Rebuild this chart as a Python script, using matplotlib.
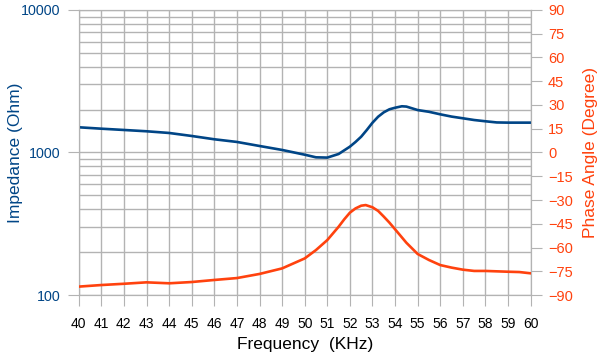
import numpy as np
import matplotlib
matplotlib.use("Agg")
import matplotlib.pyplot as plt
from matplotlib.ticker import FixedLocator, NullFormatter, LogLocator

plt.rcParams['font.family'] = ['Liberation Sans', 'DejaVu Sans']

# impedance (Ohm)
freq_z = [40, 41, 42, 43, 44, 45, 46, 47, 48, 49, 50, 50.5, 51, 51.5, 52, 52.25,
          52.5, 52.75, 53, 53.25, 53.5, 53.75, 54, 54.3, 54.5, 55, 55.5, 56, 56.5,
          57, 57.5, 58, 58.5, 59, 59.5, 60]
impedance = [1503, 1469, 1439, 1409, 1371, 1306, 1238, 1186, 1111, 1042, 965, 925,
             921, 976, 1099, 1186, 1291, 1440, 1618, 1783, 1914, 2010, 2061, 2110,
             2100, 1985, 1930, 1853, 1786, 1738, 1690, 1656, 1625, 1620, 1620, 1620]

# phase angle (degree)
freq_p = [40, 41, 42, 43, 44, 45, 46, 47, 48, 49, 50, 50.5, 51, 51.5, 51.75, 52,
          52.25, 52.5, 52.7, 53, 53.25, 53.5, 53.75, 54, 54.5, 55, 55.5, 56, 56.5,
          57, 57.5, 58, 59, 59.5, 60]
phase = [-84.7, -83.7, -82.9, -82.0, -82.6, -81.8, -80.5, -79.3, -76.7, -73.2,
         -66.9, -61.6, -55.3, -46.9, -42.2, -38.0, -35.3, -33.6, -33.2, -34.6,
         -36.9, -40.5, -44.3, -48.5, -57.0, -64.1, -67.9, -71.1, -72.7, -74.0,
         -74.8, -74.8, -75.3, -75.5, -76.3]

x_ticks = list(range(40, 61))
z_ticks = [100, 1000, 10000]
p_ticks = list(range(-90, 91, 15))

blue = '#004586'
orange = '#FF420E'
grid_c = '#B3B3B3'

fig = plt.figure(figsize=(6.06, 3.63), dpi=100)
ax1 = fig.add_axes([0.1299, 0.1873, 0.7458, 0.7852])
ax2 = ax1.twinx()

ax1.plot(freq_z, impedance, color=blue, lw=1.9, zorder=3)
ax2.plot(freq_p, phase, color=orange, lw=1.9, zorder=3)

ax1.set_yscale('log')
ax1.set_ylim(100, 10000)
ax1.set_xlim(40, 60)
ax2.set_ylim(-90, 90)

ax1.xaxis.set_major_locator(FixedLocator(x_ticks))
ax1.yaxis.set_major_locator(FixedLocator(z_ticks))
ax1.set_yticklabels([str(v) for v in z_ticks])
ax1.yaxis.set_minor_locator(LogLocator(base=10, subs=np.arange(2, 10)))
ax1.yaxis.set_minor_formatter(NullFormatter())
ax2.yaxis.set_major_locator(FixedLocator(p_ticks))

ax1.grid(True, which='both', axis='y', color=grid_c, lw=1)
ax1.grid(True, which='major', axis='x', color=grid_c, lw=1)
ax1.set_axisbelow(True)

for ax in (ax1, ax2):
    for s in ax.spines.values():
        s.set_color(grid_c)

ax1.tick_params(axis='x', length=8, color=grid_c, labelsize=10, pad=8)
ax1.tick_params(axis='y', which='major', length=8, color=grid_c, labelsize=10.3,
                labelcolor=blue, pad=5)
ax1.tick_params(axis='y', which='minor', length=0)
ax2.tick_params(axis='y', length=8, color=grid_c, labelsize=10.5,
                labelcolor=orange, pad=4.5)

ax1.set_xlabel('Frequency  (KHz)', fontsize=12.5, labelpad=4)
ax1.set_ylabel('Impedance (Ohm)', fontsize=12.5, color=blue, labelpad=-1)
ax2.set_ylabel('Phase Angle (Degree)', fontsize=12.5, color=orange, labelpad=7)

fig.savefig('out.png', dpi=100)
